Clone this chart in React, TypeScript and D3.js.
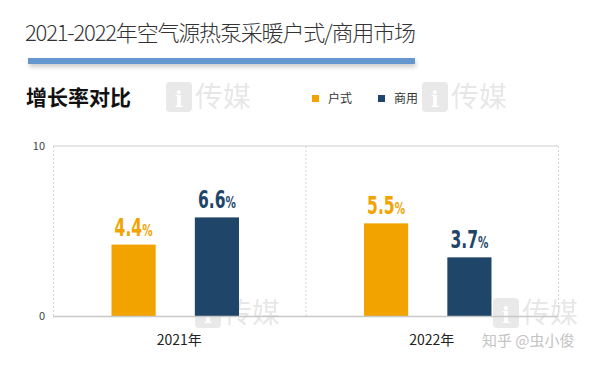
import React, { useRef, useEffect } from "react";
import * as d3 from "d3";

const years = ["2021年", "2022年"];
const seriesNames = ["户式", "商用"];
// bar heights as drawn in the picture
const huShiBars = [4.2, 5.45];
const shangYongBars = [5.8, 3.45];
// value labels as printed
const huShiLabels = ["4.4", "5.5"];
const shangYongLabels = ["6.6", "3.7"];
const yTicks = [0, 10];

const colors = ["#F2A300", "#1F4669"];

const App = () => {
  const svgRef = useRef<SVGSVGElement>(null);

  useEffect(() => {
    const svg = d3.select(svgRef.current);
    svg.selectAll("*").remove();

    const width = 611;
    const height = 365;
    const font = "'Noto Sans CJK SC', 'Noto Sans', sans-serif";

    svg.attr("width", width).attr("height", height);
    svg.append("rect").attr("width", width).attr("height", height).attr("fill", "#fff");

    // watermarks
    const marks = [
      [166, 82],
      [422, 82],
      [195, 298],
      [493, 298],
    ];
    const wm = svg.append("g").attr("opacity", 0.5);
    marks.forEach(([x, y]) => {
      wm.append("rect").attr("x", x).attr("y", y).attr("width", 26).attr("height", 30).attr("rx", 4).attr("fill", "#d4d4d4");
      wm.append("text").attr("x", x + 13).attr("y", y + 25).attr("text-anchor", "middle")
        .attr("font-family", "'DejaVu Serif', serif").attr("font-weight", "bold").attr("font-size", 22).attr("fill", "#fff").text("i");
      wm.append("text").attr("x", x + 29).attr("y", y + 25).attr("font-family", font)
        .attr("font-size", 28).attr("fill", "#d0d0d0").text("传媒");
    });

    // title
    svg.append("text").attr("x", 25).attr("y", 41).attr("font-family", font).attr("font-weight", 300)
      .attr("font-size", 22).attr("fill", "#333").attr("textLength", 391).text("2021-2022年空气源热泵采暖户式/商用市场");

    const defs = svg.append("defs");
    const f = defs.append("filter").attr("id", "sh").attr("x", "-5%").attr("y", "-100%").attr("width", "110%").attr("height", "400%");
    f.append("feDropShadow").attr("dx", 1).attr("dy", 3).attr("stdDeviation", 2).attr("flood-color", "#000").attr("flood-opacity", 0.2);
    svg.append("rect").attr("x", 28).attr("y", 58).attr("width", 387).attr("height", 6)
      .attr("fill", "#6497CD").attr("filter", "url(#sh)");

    svg.append("text").attr("x", 26).attr("y", 105).attr("font-family", font).attr("font-weight", "bold")
      .attr("font-size", 21).attr("fill", "#111").text("增长率对比");

    // legend
    const legendX = [312, 378];
    seriesNames.forEach((s, i) => {
      svg.append("rect").attr("x", legendX[i]).attr("y", 95).attr("width", 7).attr("height", 7).attr("fill", colors[i]);
      svg.append("text").attr("x", legendX[i] + 16).attr("y", 103).attr("font-family", font)
        .attr("font-size", 12).attr("fill", "#333").text(s);
    });

    // chart
    const left = 53, right = 558, top = 146, bottom = 316;
    const y = d3.scaleLinear().domain([0, 10]).range([bottom, top]);
    const x0 = d3.scaleBand().domain(years).range([left, right]);
    const x1 = d3.scaleBand().domain(seriesNames).range([-4, x0.bandwidth() - 4]).paddingInner(0.47).paddingOuter(0.75);

    const g = svg.append("g");
    g.append("line").attr("x1", left).attr("x2", right).attr("y1", top).attr("y2", top).attr("stroke", "#cfcfcf");
    const seps = [left, ...years.map((d) => (x0(d) as number) + x0.bandwidth())];
    seps.forEach((sx) => {
      g.append("line").attr("x1", sx + 0.5).attr("x2", sx + 0.5).attr("y1", top).attr("y2", bottom)
        .attr("stroke", "#d6d6d6").attr("stroke-dasharray", "2,2");
    });

    yTicks.forEach((t) => {
      g.append("text").attr("x", 45).attr("y", y(t) + 4).attr("text-anchor", "end")
        .attr("font-family", font).attr("font-size", 11).attr("fill", "#444").text(t);
    });

    const barVals = [huShiBars, shangYongBars];
    const labels = [huShiLabels, shangYongLabels];
    years.forEach((yr, j) => {
      seriesNames.forEach((s, i) => {
        const bx = (x0(yr) as number) + (x1(s) as number);
        const v = barVals[i][j];
        g.append("rect").attr("x", bx).attr("y", y(v)).attr("width", x1.bandwidth())
          .attr("height", y(0) - y(v)).attr("fill", colors[i]);
        const t = g.append("text")
          .attr("transform", `translate(${bx + x1.bandwidth() / 2},${y(v) - 9}) scale(0.72,1)`)
          .attr("text-anchor", "middle").attr("fill", colors[i])
          .attr("font-family", "'DejaVu Sans Condensed', 'DejaVu Sans', sans-serif")
          .attr("font-weight", "bold");
        t.append("tspan").attr("font-size", 24).text(labels[i][j]);
        t.append("tspan").attr("font-size", 16).text("%");
      });
    });

    g.append("line").attr("x1", left).attr("x2", right).attr("y1", bottom + 0.5).attr("y2", bottom + 0.5)
      .attr("stroke", "#c8c8c8").attr("stroke-width", 1.5);

    years.forEach((yr) => {
      g.append("text").attr("x", (x0(yr) as number) + x0.bandwidth() / 2).attr("y", 345)
        .attr("text-anchor", "middle").attr("font-family", font).attr("font-size", 14)
        .attr("fill", "#222").text(yr);
    });

    svg.append("text").attr("x", 482).attr("y", 346).attr("font-family", font).attr("font-size", 15)
      .attr("fill", "#c4c4c4").text("知乎 @虫小俊");
  }, []);

  return (
    <div style={{ position: "absolute", left: 0, top: 0 }}>
      <svg ref={svgRef} style={{ display: "block" }}></svg>
    </div>
  );
};

export default App;
